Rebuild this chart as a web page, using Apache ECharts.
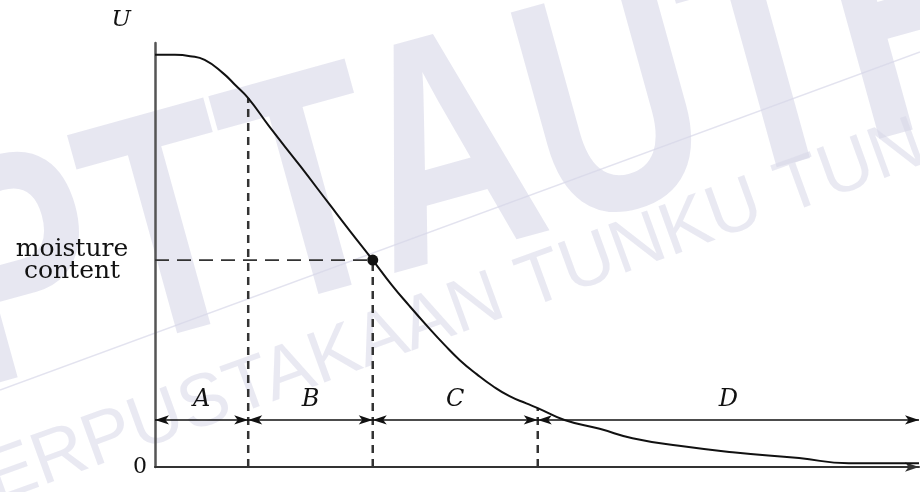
<!DOCTYPE html>
<html>
<head>
<meta charset="utf-8">
<script src="https://cdn.jsdelivr.net/npm/echarts@6/dist/echarts.min.js"></script>
<style>
  html, body { margin: 0; padding: 0; background: #fff; }
  #chart { width: 920px; height: 492px; }
</style>
</head>
<body>
<div id="chart"></div>
<script>
// drying curve: time (arbitrary units, 0..100) vs moisture (0..100)
const curveX = [0, 2.6, 4.6, 6.5, 8.9, 10.5, 12.2, 15, 19, 22.9, 25.5, 28.5, 31, 33.3, 35.6, 37.9, 39.9, 42.1, 44.2, 46.4, 48.6, 50.1, 53.6, 58.2, 62.5, 68.6, 75.6, 84.3, 90.8, 100]
const curveY = [97.2, 97.2, 96.9, 96.0, 92.9, 90.1, 87.0, 80.2, 71.0, 61.8, 55.7, 48.8, 42.9, 38.0, 33.3, 28.8, 25.2, 21.9, 19.1, 16.7, 15.0, 13.9, 11.1, 9.0, 6.8, 5.0, 3.5, 2.1, 0.9, 0.9]

// phase boundaries and names
const bounds = [0, 12.2, 28.5, 50.1, 100]
const boundTops = [87.0, 48.8, 13.9]   // curve value where each inner dashed line stops
const phases = ['A', 'B', 'C', 'D']
const phaseLevel = 11.1

// critical point
const critical = [28.5, 48.8]

const serif = 'DejaVu Serif'
const ink = '#111'

const chart = echarts.init(document.getElementById('chart'))

const guideSeries = boundTops.map((top, i) => ({
  type: 'line',
  data: [[bounds[i + 1], 0], [bounds[i + 1], top]],
  symbol: 'none',
  silent: true,
  z: 3,
  lineStyle: { color: '#333', width: 2.5, type: [8, 6] },
}))

chart.setOption({
  animation: false,
  graphic: [
    {
      type: 'text',
      x: -12, y: 460,
      rotation: 0.27,
      scaleX: 0.75,
      z: 0,
      style: { text: 'PTTAUTHM', font: 'bold 320px "Liberation Sans"', fill: 'rgba(215,215,232,0.6)', textVerticalAlign: 'bottom' },
    },
    {
      type: 'line',
      z: 0,
      shape: { x1: 0, y1: 390, x2: 920, y2: 52 },
      style: { stroke: 'rgba(215,215,232,0.7)', lineWidth: 1.5 },
    },
    {
      type: 'text',
      x: -45, y: 535,
      rotation: 0.35,
      z: 0,
      style: { text: 'PERPUSTAKAAN TUNKU TUN', font: '74px "Liberation Sans"', fill: 'rgba(215,215,232,0.55)', textVerticalAlign: 'bottom' },
    },
  ],
  grid: { left: 155, right: 1, top: 43, bottom: 25, outerBoundsMode: 'none' },
  xAxis: {
    type: 'value',
    min: 0,
    max: 100,
    axisLine: {
      show: true,
      symbol: ['none', 'arrow'],
      symbolSize: [7, 14],
      lineStyle: { color: '#333', width: 2 },
    },
    axisTick: { show: false },
    axisLabel: { show: false },
    splitLine: { show: false },
  },
  yAxis: {
    type: 'value',
    min: 0,
    max: 100,
    name: 'U',
    nameGap: 11,
    nameTextStyle: { fontFamily: serif, fontStyle: 'italic', fontSize: 23, color: ink, align: 'right', padding: [0, 24, 0, 0] },
    axisLine: { show: true, lineStyle: { color: '#555', width: 2.5 } },
    axisTick: { show: false },
    splitLine: { show: false },
    axisLabel: {
      customValues: [0, critical[1]],
      margin: 8,
      formatter: (v) => (v === 0 ? '{z|0}' : '{m|moisture}\n{m|content}'),
      rich: {
        z: { fontFamily: serif, fontSize: 22, color: ink },
        m: { fontFamily: serif, fontSize: 25, color: ink, width: 150, align: 'center', lineHeight: 22 },
      },
    },
  },
  series: [
    ...guideSeries,
    {
      type: 'line',
      data: [[0, critical[1]], critical],
      symbol: 'none',
      silent: true,
      z: 3,
      lineStyle: { color: '#333', width: 1.8, type: [14, 8] },
    },
    {
      type: 'line',
      data: [],
      silent: true,
      markLine: {
        silent: true,
        symbol: ['arrow', 'arrow'],
        symbolSize: [7, 14],
        lineStyle: { color: ink, width: 1.5, type: 'solid' },
        label: {
          show: true,
          position: 'middle',
          distance: 8,
          fontFamily: serif,
          fontStyle: 'italic',
          fontSize: 24,
          color: ink,
          formatter: (p) => p.name,
        },
        data: phases.map((name, i) => [
          { name, coord: [bounds[i], phaseLevel] },
          { coord: [bounds[i + 1], phaseLevel] },
        ]),
      },
    },
    {
      type: 'line',
      data: curveX.map((x, i) => [x, curveY[i]]),
      symbol: 'none',
      smooth: 0.5,
      z: 5,
      lineStyle: { color: ink, width: 2 },
    },
    {
      type: 'scatter',
      data: [critical],
      symbolSize: 11,
      z: 6,
      itemStyle: { color: ink, opacity: 1 },
    },
  ],
})
</script>
</body>
</html>
